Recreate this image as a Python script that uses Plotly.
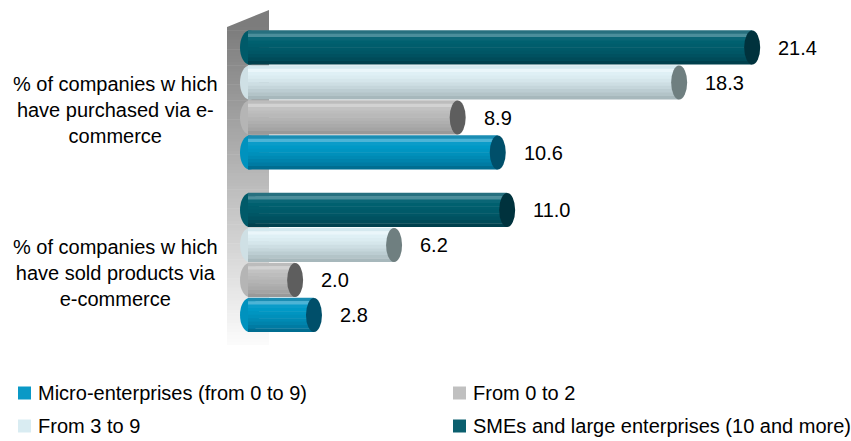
import plotly.graph_objects as go

# ---- data -------------------------------------------------------------
category_lines = [
    ["% of companies w hich", "have purchased via e-", "commerce"],
    ["% of companies w hich", "have sold products via", "e-commerce"],
]
series_names = [
    "Micro-enterprises (from 0 to 9)",
    "From 0 to 2",
    "From 3 to 9",
    "SMEs and large enterprises (10 and more)",
]
micro_values = [10.6, 2.8]
from_0_to_2_values = [8.9, 2.0]
from_3_to_9_values = [18.3, 6.2]
sme_values = [21.4, 11.0]

# ---- styling ----------------------------------------------------------
W, H = 851, 441
FONT = "Liberation Sans, Arial, sans-serif"
FS = 20

# pixel geometry of the value and category axes
X_ZERO_PX = 248.0
PX_PER_X = 23.56
GROUP_PX = [100.0, 262.5]
PX_PER_Y = GROUP_PX[1] - GROUP_PX[0]

def yd(py):
    """pixel row -> y data value (top group sits at 1, bottom group at 0)"""
    return (GROUP_PX[1] - py) / PX_PER_Y

def px_paper_x(px):
    return px / W

def px_paper_y(py):
    return 1 - py / H

group_pos = [yd(p) for p in GROUP_PX]
pitch = 35.0 / PX_PER_Y        # distance between neighbouring bars
bar_h = 34.0 / PX_PER_Y        # thickness of one cylinder
cap_w = 8.0 / PX_PER_X         # half width of the elliptical end caps

# drawing order from the top of each group downwards
stack = [
    dict(name=series_names[3], values=sme_values,
         stripes=["#27707f", "#4b8e9b", "#0a6676", "#00606f", "#005d6c",
                  "#005a69", "#005665", "#005160", "#004b59", "#00404d"],
         cap="#00323d", left="#005a69", swatch="#0b5f6e"),
    dict(name=series_names[2], values=from_3_to_9_values,
         stripes=["#d5e9ef", "#eaf6fa", "#dff0f5", "#dbecf1", "#d5e6eb",
                  "#cddee3", "#c5d6db", "#bccdd2", "#b3c4c8", "#a7b8bc"],
         cap="#6f7f80", left="#cfe0e5", swatch="#d9ecf2"),
    dict(name=series_names[1], values=from_0_to_2_values,
         stripes=["#bcbcbc", "#d2d2d2", "#c2c2c2", "#bdbdbd", "#b9b9b9",
                  "#b4b4b4", "#afafaf", "#aaaaaa", "#a4a4a4", "#999999"],
         cap="#5e5e5e", left="#b5b5b5", swatch="#c0c0c0"),
    dict(name=series_names[0], values=micro_values,
         stripes=["#1a8db3", "#4cb4d6", "#0a9cc9", "#0099c6", "#0095c1",
                  "#0090bb", "#008ab4", "#0083ac", "#007ba3", "#006d91"],
         cap="#004f6a", left="#0092be", swatch="#0a99c6"),
]

fig = go.Figure()
shapes = []
annotations = []

# ---- back wall (vertical gray gradient, slanted top) -------------------
wall_l, wall_r = 227, 269
wall_top_l, wall_top_r, wall_bottom = 27, 10, 345
top_col, bot_col = (124, 124, 124), (252, 252, 252)

def mix(t):
    return "rgb(%d,%d,%d)" % tuple(round(a + (b - a) * t) for a, b in zip(top_col, bot_col))

shapes.append(dict(
    type="path", xref="paper", yref="paper", layer="below",
    path="M%f,%f L%f,%f L%f,%f Z" % (
        px_paper_x(wall_l), px_paper_y(wall_top_l),
        px_paper_x(wall_r), px_paper_y(wall_top_r),
        px_paper_x(wall_r), px_paper_y(wall_top_l + 0.5)),
    fillcolor=mix(0), line=dict(width=0)))
n_slices = 100
span = wall_bottom - wall_top_l
for i in range(n_slices):
    y0 = wall_top_l + span * i / n_slices
    y1 = wall_top_l + span * (i + 1) / n_slices + 0.6
    shapes.append(dict(
        type="rect", xref="paper", yref="paper", layer="below",
        x0=px_paper_x(wall_l), x1=px_paper_x(wall_r),
        y0=px_paper_y(y0), y1=px_paper_y(min(y1, wall_bottom)),
        fillcolor=mix((i + 0.5) / n_slices), line=dict(width=0)))

# ---- cylinders --------------------------------------------------------
for k, s in enumerate(stack):
    centers = [g + (1.5 - k) * pitch for g in group_pos]
    n = len(s["stripes"])
    sh = bar_h / n
    for j, col in enumerate(s["stripes"]):
        off = bar_h / 2 - (j + 0.5) * sh
        fig.add_trace(go.Bar(
            orientation="h",
            x=s["values"],
            y=[c + off for c in centers],
            width=sh * 1.15 if j < n - 1 else sh,
            marker=dict(color=col, line=dict(width=0)),
            hoverinfo="skip",
            showlegend=False,
        ))
    for v, c in zip(s["values"], centers):
        # rounded start of the cylinder, tucked behind the bar body
        shapes.append(dict(
            type="circle", xref="x", yref="y", layer="below",
            x0=-cap_w, x1=cap_w * 1.4, y0=c - bar_h / 2, y1=c + bar_h / 2,
            fillcolor=s["left"], line=dict(width=0)))
        # dark elliptical end face
        shapes.append(dict(
            type="circle", xref="x", yref="y", layer="above",
            x0=v - cap_w, x1=v + cap_w, y0=c - bar_h / 2, y1=c + bar_h / 2,
            fillcolor=s["cap"], line=dict(width=0)))
        annotations.append(dict(
            x=v, y=c, xref="x", yref="y", text="%.1f" % v,
            showarrow=False, xanchor="left", yanchor="middle", xshift=24,
            font=dict(family=FONT, size=FS, color="#000000")))

# ---- category labels --------------------------------------------------
for lines, g in zip(category_lines, group_pos):
    annotations.append(dict(
        x=px_paper_x(116), y=g, xref="paper", yref="y",
        text="<br>".join(lines), align="center",
        showarrow=False, xanchor="center", yanchor="middle", yshift=-10,
        font=dict(family=FONT, size=FS, color="#000000")))

# ---- legend (two columns) ---------------------------------------------
legend_order = [stack[3], stack[2], stack[1], stack[0]]
legend_slots = [(18, 393), (453, 393), (18, 426), (453, 426)]
for s, (lx, ly) in zip(legend_order, legend_slots):
    shapes.append(dict(
        type="rect", xref="paper", yref="paper",
        x0=px_paper_x(lx), x1=px_paper_x(lx + 13),
        y0=px_paper_y(ly - 6.5), y1=px_paper_y(ly + 6.5),
        fillcolor=s["swatch"], line=dict(width=0)))
    annotations.append(dict(
        x=px_paper_x(lx + 18), y=px_paper_y(ly), xref="paper", yref="paper",
        text=s["name"], showarrow=False, xanchor="left", yanchor="middle",
        font=dict(family=FONT, size=FS, color="#000000")))

fig.update_layout(
    width=W, height=H,
    margin=dict(l=0, r=0, t=0, b=0),
    paper_bgcolor="white", plot_bgcolor="white",
    barmode="overlay",
    showlegend=False,
    xaxis=dict(range=[-X_ZERO_PX / PX_PER_X, (W - X_ZERO_PX) / PX_PER_X],
               visible=False, fixedrange=True),
    yaxis=dict(range=[yd(H), yd(0)], visible=False, fixedrange=True),
    shapes=shapes,
    annotations=annotations,
)

fig.write_html("out.html")
